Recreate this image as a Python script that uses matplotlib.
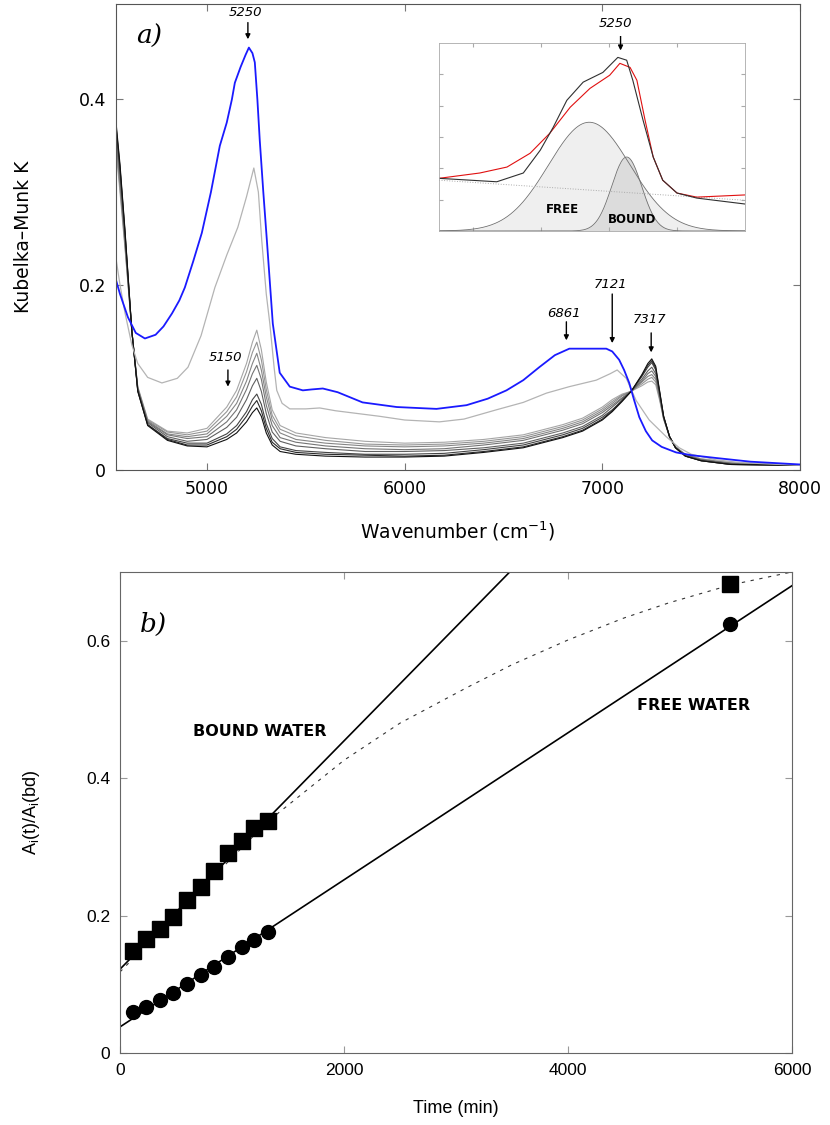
import matplotlib
matplotlib.use('Agg')
from matplotlib import pyplot as plt
import numpy as np

# ---- panel a) : Kubelka-Munk spectra ----
wn_fam = [4540, 4560, 4585, 4620, 4650, 4700, 4800, 4900, 5000, 5100, 5150,
          5200, 5230, 5252, 5275, 5300, 5330, 5370, 5450, 5600, 5800, 6000,
          6200, 6400, 6600, 6800, 6900, 7000, 7050, 7100, 7146, 7200, 7230,
          7250, 7270, 7290, 7310, 7340, 7370, 7420, 7500, 7650, 8000]
# lightest (early) to darkest (late)
k_fam1 = [.345, .300, .240, .150, .090, .055, .042, .040, .045, .068, .086,
          .115, .138, .151, .130, .095, .065, .048, .040, .035, .031, .029,
          .030, .033, .038, .049, .056, .068, .076, .082, .085, .091, .095,
          .096, .092, .075, .055, .036, .025, .017, .012, .008, .005]
k_fam2 = [.350, .305, .243, .150, .089, .054, .041, .038, .042, .063, .079,
          .106, .127, .138, .119, .087, .059, .044, .037, .032, .028, .027,
          .028, .031, .036, .047, .054, .066, .074, .081, .085, .093, .098,
          .100, .095, .077, .055, .036, .025, .017, .012, .008, .005]
k_fam3 = [.354, .309, .246, .150, .088, .053, .039, .036, .039, .058, .072,
          .096, .115, .126, .108, .079, .054, .040, .033, .029, .026, .025,
          .026, .029, .034, .045, .052, .064, .072, .080, .085, .095, .101,
          .103, .098, .078, .056, .036, .025, .016, .011, .007, .005]
k_fam4 = [.359, .314, .249, .150, .088, .052, .038, .034, .036, .052, .065,
          .087, .104, .113, .098, .070, .048, .035, .030, .026, .023, .022,
          .023, .027, .032, .043, .050, .062, .070, .078, .085, .096, .104,
          .107, .101, .080, .056, .036, .025, .016, .011, .007, .005]
k_fam5 = [.364, .319, .252, .150, .087, .051, .036, .031, .033, .046, .057,
          .076, .091, .099, .085, .061, .041, .031, .026, .023, .020, .020,
          .021, .024, .029, .040, .047, .059, .068, .077, .085, .098, .107,
          .111, .104, .081, .057, .036, .024, .016, .011, .007, .005]
k_fam6 = [.370, .325, .256, .150, .086, .049, .034, .029, .029, .039, .048,
          .063, .076, .082, .071, .050, .034, .025, .021, .019, .017, .017,
          .018, .022, .027, .038, .045, .057, .065, .075, .085, .101, .111,
          .116, .108, .083, .057, .036, .024, .015, .010, .006, .005]
k_fam7 = [.372, .327, .258, .150, .085, .049, .033, .027, .027, .036, .044,
          .058, .069, .075, .064, .045, .030, .023, .019, .017, .016, .015,
          .016, .020, .025, .036, .043, .055, .064, .075, .085, .102, .113,
          .118, .110, .084, .058, .036, .024, .015, .010, .006, .005]
k_fam8 = [.375, .330, .260, .150, .085, .048, .032, .026, .025, .033, .040,
          .052, .062, .067, .058, .040, .027, .020, .017, .015, .014, .014,
          .015, .019, .024, .035, .042, .054, .063, .074, .085, .103, .115,
          .120, .112, .085, .058, .036, .024, .015, .010, .006, .005]
fam_colors = ['#a6a6a6', '#959595', '#858585', '#747474',
              '#606060', '#444444', '#2c2c2c', '#111111']

wn_grey = [4540, 4560, 4585, 4620, 4650, 4700, 4772, 4850, 4904, 4970, 5040,
           5100, 5156, 5200, 5237, 5260, 5277, 5300, 5318, 5340, 5353, 5380,
           5419, 5500, 5570, 5650, 5873, 6000, 6176, 6300, 6464, 6600, 6717,
           6833, 6969, 7040, 7075, 7121, 7171, 7237, 7323, 7389, 7450, 7575,
           7700, 8000]
k_grey = [.228, .200, .170, .135, .115, .100, .094, .099, .111, .145, .197,
          .232, .262, .295, .326, .300, .248, .190, .158, .110, .086, .072,
          .066, .066, .067, .064, .058, .054, .052, .055, .065, .073, .083,
          .090, .097, .104, .108, .099, .075, .054, .036, .024, .017, .011,
          .008, .005]

wn_blue = [4540, 4560, 4600, 4640, 4686, 4740, 4780, 4823, 4860, 4888, 4930,
           4974, 5020, 5065, 5100, 5126, 5141, 5170, 5195, 5212, 5230, 5242,
           5255, 5267, 5285, 5303, 5333, 5368, 5419, 5485, 5530, 5586, 5661,
           5787, 5960, 6161, 6313, 6420, 6515, 6600, 6681, 6760, 6833, 6930,
           7020, 7050, 7085, 7110, 7136, 7160, 7187, 7220, 7252, 7300, 7373,
           7450, 7575, 7750, 8000]
k_blue = [.205, .190, .165, .148, .142, .146, .155, .169, .183, .197, .225,
          .256, .300, .350, .375, .400, .418, .435, .448, .456, .450, .440,
          .400, .356, .300, .248, .158, .105, .090, .086, .087, .088, .084,
          .073, .068, .066, .070, .077, .086, .097, .111, .124, .131, .131,
          .131, .128, .119, .108, .094, .076, .057, .042, .032, .025, .019,
          .016, .013, .009, .006]

# ---- inset : band decomposition ----
ins_wn_meas = [4985, 5070, 5109, 5134, 5153, 5173, 5197, 5226, 5248, 5261,
               5270, 5285, 5300, 5314, 5335, 5364, 5435]
ins_meas = [1.68, 1.57, 1.85, 2.58, 3.31, 4.17, 4.75, 5.06, 5.54, 5.45,
            4.81, 3.54, 2.36, 1.62, 1.21, 1.05, 0.86]
ins_wn_fit = [4985, 5045, 5085, 5119, 5148, 5178, 5207, 5236, 5251, 5266,
              5276, 5288, 5300, 5314, 5335, 5364, 5435]
ins_fit = [1.68, 1.85, 2.04, 2.48, 3.12, 3.95, 4.55, 4.97, 5.35, 5.22,
           4.81, 3.54, 2.36, 1.62, 1.21, 1.08, 1.15]
base_wn = [4985, 5435]
base_k = [1.62, 0.98]
# band centre, height, width
free_band = (5206, 3.47, 60)
bound_band = (5261, 2.36, 22)

# ---- panel b) : kinetics ----
t_obs = [115, 235, 355, 475, 600, 720, 840, 960, 1085, 1200, 1320, 5450]
a_bound = [0.149, 0.166, 0.181, 0.198, 0.222, 0.242, 0.265, 0.291, 0.309,
           0.327, 0.337, 0.682]
a_free = [0.060, 0.067, 0.077, 0.087, 0.100, 0.113, 0.125, 0.140, 0.154,
          0.164, 0.176, 0.624]
t_bound_lin = [0, 3480]
bound_lin = [0.122, 0.700]
t_free_lin = [0, 6000]
free_lin = [0.038, 0.680]
t_dash = [0, 660, 1320, 2000, 2500, 3100, 3500, 4000, 4500, 4900, 5450, 6000]
bound_dash = [0.118, 0.228, 0.337, 0.426, 0.480, 0.532, 0.565, 0.601, 0.633,
              0.655, 0.681, 0.700]


plt.rcParams['font.family'] = ['DejaVu Sans']
fig = plt.figure(figsize=(8.3, 11.25), dpi=100)

# top panel
ax = fig.add_axes([0.1398, 0.5822, 0.8241, 0.4142])
families = [k_fam1, k_fam2, k_fam3, k_fam4, k_fam5, k_fam6, k_fam7, k_fam8]
for kk, col in zip(families, fam_colors):
    ax.plot(wn_fam, kk, color=col, lw=0.8)
ax.plot(wn_grey, k_grey, color='#b4b4b4', lw=0.9)
ax.plot(wn_blue, k_blue, color='#1a1aff', lw=1.3)

ax.set_xlim(4540, 8000)
ax.set_ylim(0, 0.503)
ax.set_xticks([5000, 6000, 7000, 8000])
ax.set_yticks([0, 0.2, 0.4])
ax.set_yticklabels(['0', '0.2', '0.4'])
ax.tick_params(direction='in', top=True, right=True, length=5, color='#777777',
               labelsize=12.5, pad=7)
for s in ax.spines.values():
    s.set_color('#555555')
ax.set_xlabel('Wavenumber (cm$^{-1}$)', fontsize=13.5, labelpad=16)
ax.set_ylabel('Kubelka–Munk K', fontsize=13.5, labelpad=33)
ax.text(0.03, 0.93, 'a)', transform=ax.transAxes, fontsize=19,
        family='DejaVu Serif', style='italic', va='center')

arr = dict(arrowstyle='-|>', color='k', lw=1.0, mutation_scale=7,
           shrinkA=0, shrinkB=0)
# label, x of arrow, arrow tail, arrow tip, text y
peaks = [('5250', 5207, .483, .465, .494),
         ('5150', 5106, .108, .090, .121),
         ('6861', 6818, .160, .140, .169),
         ('7121', 7050, .190, .137, .200),
         ('7317', 7247, .148, .127, .162)]
for lab, xp, y0, y1, yt in peaks:
    ax.annotate('', xy=(xp, y1), xytext=(xp, y0), arrowprops=arr)
    ax.text(xp - 10, yt, lab, ha='center', va='center', fontsize=9.5,
            style='italic', clip_on=False)

# inset
axi = fig.add_axes([0.5289, 0.7947, 0.3687, 0.1671])
xg = np.linspace(4985, 5435, 300)
c, h, w = free_band
free_y = h * np.exp(-0.5 * ((xg - c) / w) ** 2)
c, h, w = bound_band
bound_y = h * np.exp(-0.5 * ((xg - c) / w) ** 2)
axi.fill_between(xg, 0, free_y, color='#efefef', lw=0)
axi.fill_between(xg, 0, bound_y, color='#dcdcdc', lw=0)
axi.plot(xg, free_y, color='#707070', lw=0.6)
axi.plot(xg, bound_y, color='#707070', lw=0.6)
axi.plot(base_wn, base_k, color='#aaaaaa', lw=0.7, ls=':')
axi.plot(ins_wn_fit, ins_fit, color='#e01010', lw=0.8)
axi.plot(ins_wn_meas, ins_meas, color='#303030', lw=0.8)
axi.text(5167, 0.67, 'FREE', fontsize=8.5, fontweight='bold', ha='center',
         va='center')
axi.text(5269, 0.38, 'BOUND', fontsize=8.5, fontweight='bold', ha='center',
         va='center')
axi.set_xlim(4985, 5435)
axi.set_ylim(0, 6)
axi.set_xticks([5035, 5135, 5235, 5335])
axi.set_yticks([1, 2, 3, 4, 5])
axi.tick_params(direction='in', top=True, right=True, length=3,
                color='#aaaaaa', labelbottom=False, labelleft=False)
for s in axi.spines.values():
    s.set_color('#aaaaaa')
    s.set_linewidth(0.6)
axi.annotate('', xy=(5252, 5.76), xytext=(5252, 6.3), arrowprops=arr,
             annotation_clip=False)
axi.text(5245, 6.62, '5250', ha='center', va='center', fontsize=9.5,
         style='italic', clip_on=False,
         bbox=dict(facecolor='white', edgecolor='none', pad=4))

# bottom panel
bx = fig.add_axes([0.1446, 0.0640, 0.8096, 0.4276])
bx.plot(t_bound_lin, bound_lin, color='k', lw=1.2)
bx.plot(t_free_lin, free_lin, color='k', lw=1.2)
bx.plot(t_dash, bound_dash, color='#333333', lw=0.8, ls=(0, (3, 5)))
bx.plot(t_obs, a_bound, 's', color='k', ms=11, clip_on=False)
bx.plot(t_obs, a_free, 'o', color='k', ms=10, clip_on=False)
bx.text(1245, 0.468, 'BOUND WATER', fontsize=11.5, fontweight='bold',
        ha='center', va='center')
bx.text(5120, 0.505, 'FREE WATER', fontsize=11.5, fontweight='bold',
        ha='center', va='center')
bx.text(0.03, 0.89, 'b)', transform=bx.transAxes, fontsize=19,
        family='DejaVu Serif', style='italic', va='center')
bx.set_xlim(0, 6000)
bx.set_ylim(0, 0.7)
bx.set_xticks([0, 2000, 4000, 6000])
bx.set_yticks([0, 0.2, 0.4, 0.6])
bx.set_yticklabels(['0', '0.2', '0.4', '0.6'])
bx.tick_params(direction='in', top=True, right=True, length=5,
               color='#999999', labelsize=12.5, pad=7)
for lbl in bx.get_xticklabels() + bx.get_yticklabels():
    lbl.set_family('Liberation Sans')
for s in bx.spines.values():
    s.set_color('#666666')
bx.set_xlabel('Time (min)', fontsize=13, family='Liberation Sans', labelpad=16)
bx.set_ylabel('A$_\\mathregular{i}$(t)/A$_\\mathregular{i}$(bd)', fontsize=13,
              family='Liberation Sans', labelpad=32)

fig.savefig('out.png', dpi=100)
